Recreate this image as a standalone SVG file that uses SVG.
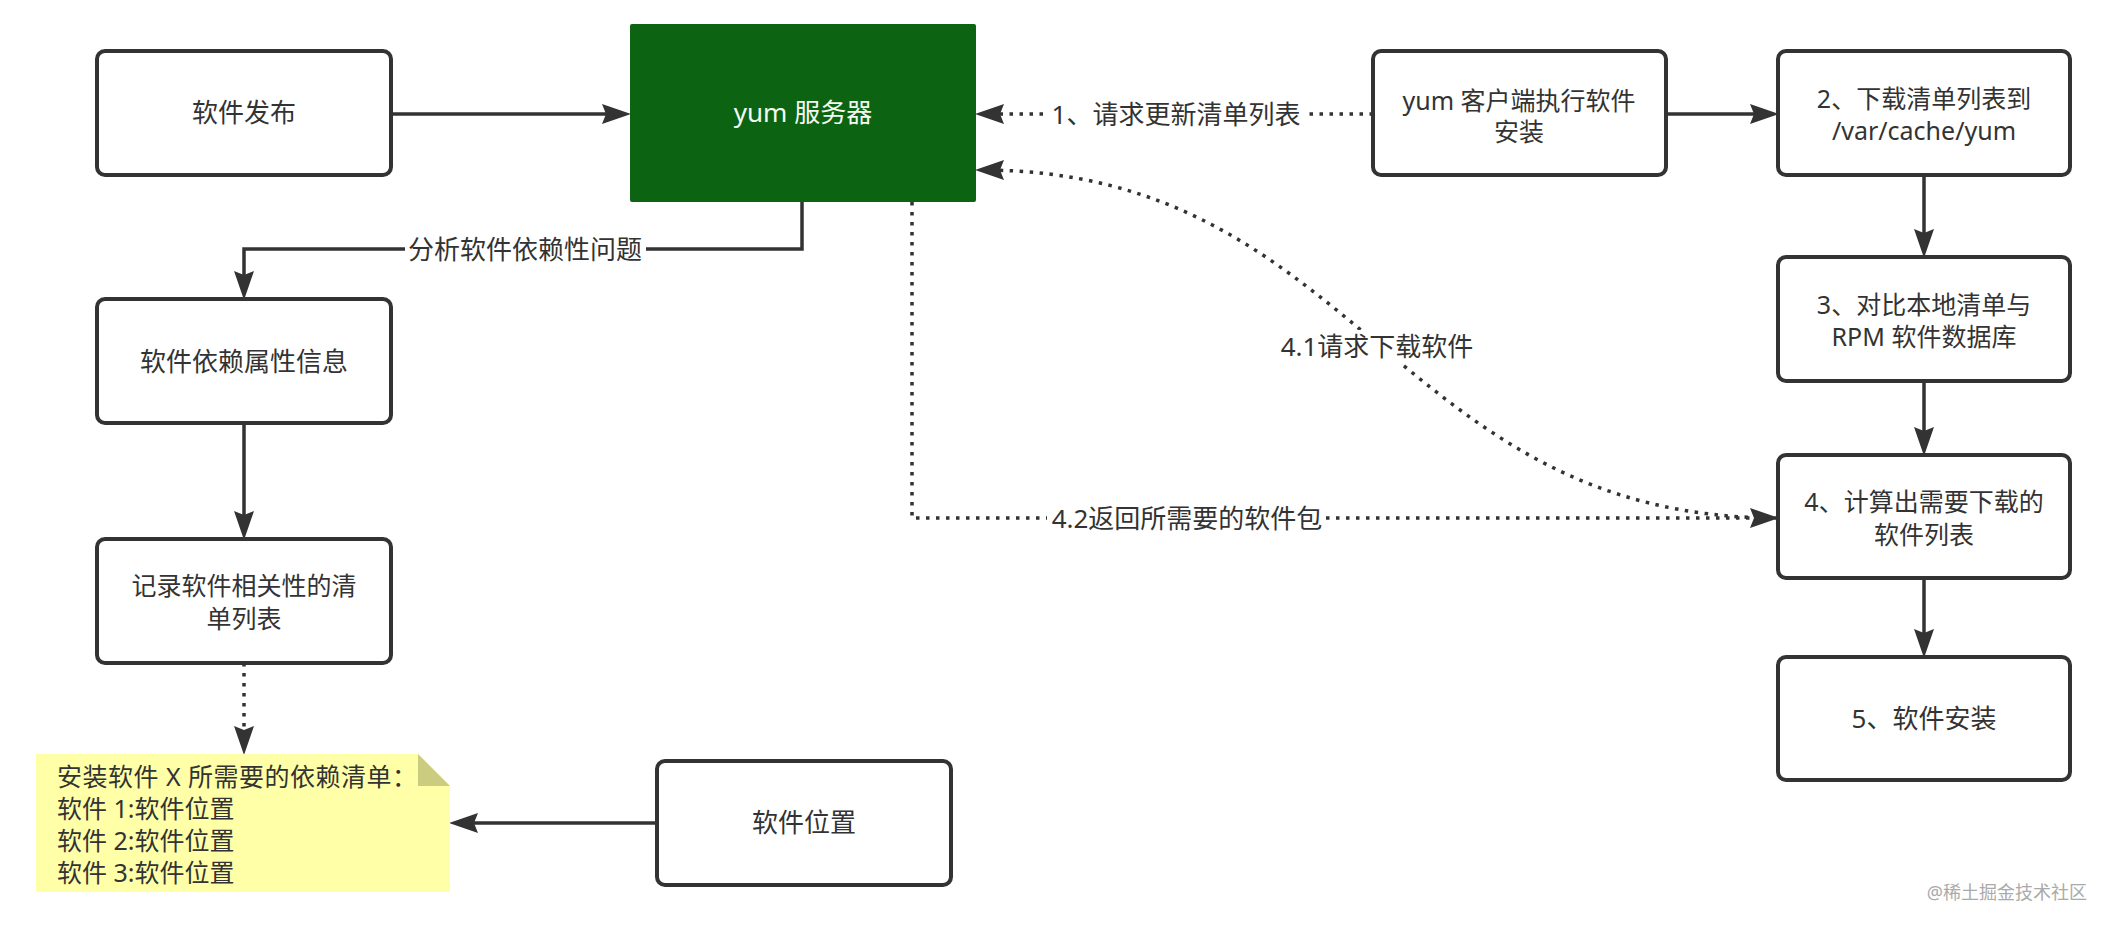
<svg xmlns="http://www.w3.org/2000/svg" width="2112" height="928" viewBox="0 0 2112 928">
<style>
.box{fill:#ffffff;stroke:#333333;stroke-width:4}
.t{font-family:"Noto Sans","Noto Sans CJK SC",sans-serif;font-size:26px;fill:#333333;text-anchor:middle}
.t2{font-family:"Noto Sans","Noto Sans CJK SC",sans-serif;font-size:25px;fill:#333333;text-anchor:middle}
.tl{font-family:"Noto Sans","Noto Sans CJK SC",sans-serif;font-size:25px;fill:#333333}
.ln{fill:none;stroke:#333333;stroke-width:3.5}
.dt{fill:none;stroke:#333333;stroke-width:3.5;stroke-dasharray:3.5 6.5}
.bg{fill:#ffffff}
</style>
<defs>
<marker id="ah" markerUnits="userSpaceOnUse" markerWidth="30" markerHeight="22" refX="23" refY="11" orient="auto">
<path d="M0,1 L29,11 L0,21 L4,11 Z" fill="#333333"/>
</marker>
</defs>
<rect width="2112" height="928" fill="#ffffff"/>

<g id="connectors">
<path class="ln" d="M391,114 L625,114" marker-end="url(#ah)"/>
<path class="dt" d="M1373,114 L981,114" marker-end="url(#ah)"/>
<path class="ln" d="M1666,114 L1773,114" marker-end="url(#ah)"/>
<path class="ln" d="M1924,175 L1924,252" marker-end="url(#ah)"/>
<path class="ln" d="M1924,381 L1924,450" marker-end="url(#ah)"/>
<path class="ln" d="M1924,578 L1924,652" marker-end="url(#ah)"/>
<path class="ln" d="M802,202 L802,249 L244,249 L244,294" marker-end="url(#ah)"/>
<path class="ln" d="M244,423 L244,534" marker-end="url(#ah)"/>
<path class="dt" d="M244,663 L244,749" marker-end="url(#ah)"/>
<path class="ln" d="M657,823 L455,823" marker-end="url(#ah)"/>
<path class="dt" d="M912,202 L912,518 L1773,518" marker-end="url(#ah)"/>
<path class="dt" d="M1778,518 C1395,518 1359,170 981,170" marker-end="url(#ah)"/>
<rect class="bg" x="1046" y="98" width="260" height="34"/>
<text class="t" x="1176" y="124">1、请求更新清单列表</text>
<rect class="bg" x="405" y="233" width="241" height="34"/>
<text class="t" x="525" y="259">分析软件依赖性问题</text>
<rect class="bg" x="1047" y="502" width="279" height="34"/>
<text class="t" x="1187" y="528">4.2返回所需要的软件包</text>
<rect class="bg" x="1277" y="330" width="200" height="34"/>
<text class="t" x="1377" y="356">4.1请求下载软件</text>
</g>

<g id="node-publish">
<rect class="box" x="97" y="51" width="294" height="124" rx="8"/>
<text class="t" x="244" y="122">软件发布</text>
</g>
<g id="node-server">
<rect x="630" y="24" width="346" height="178" rx="2" fill="#0c6412"/>
<text class="t" x="803" y="122" style="fill:#f2faf2">yum 服务器</text>
</g>
<g id="node-client">
<rect class="box" x="1373" y="51" width="293" height="124" rx="8"/>
<text class="t2" x="1519" y="110">yum 客户端执行软件</text>
<text class="t2" x="1519" y="141">安装</text>
</g>
<g id="node-step2">
<rect class="box" x="1778" y="51" width="292" height="124" rx="8"/>
<text class="t2" x="1924" y="108">2、下载清单列表到</text>
<text class="t2" x="1924" y="140">/var/cache/yum</text>
</g>
<g id="node-step3">
<rect class="box" x="1778" y="257" width="292" height="124" rx="8"/>
<text class="t2" x="1924" y="314">3、对比本地清单与</text>
<text class="t2" x="1924" y="346">RPM 软件数据库</text>
</g>
<g id="node-step4">
<rect class="box" x="1778" y="455" width="292" height="123" rx="8"/>
<text class="t2" x="1924" y="511">4、计算出需要下载的</text>
<text class="t2" x="1924" y="544">软件列表</text>
</g>
<g id="node-step5">
<rect class="box" x="1778" y="657" width="292" height="123" rx="8"/>
<text class="t" x="1924" y="728">5、软件安装</text>
</g>
<g id="node-deps">
<rect class="box" x="97" y="299" width="294" height="124" rx="8"/>
<text class="t" x="244" y="371">软件依赖属性信息</text>
</g>
<g id="node-record">
<rect class="box" x="97" y="539" width="294" height="124" rx="8"/>
<text class="t2" x="244" y="595">记录软件相关性的清</text>
<text class="t2" x="244" y="628">单列表</text>
</g>
<g id="node-note">
<path d="M36,754 L418,754 L450,786 L450,892 L36,892 Z" fill="#ffffa8"/>
<path d="M418,754 L450,786 L418,786 Z" fill="#cccc80"/>
<text class="tl" x="57" y="786" textLength="360" lengthAdjust="spacing">安装软件 X 所需要的依赖清单：</text>
<text class="tl" x="57" y="818">软件 1:软件位置</text>
<text class="tl" x="57" y="850">软件 2:软件位置</text>
<text class="tl" x="57" y="882">软件 3:软件位置</text>
</g>
<g id="node-location">
<rect class="box" x="657" y="761" width="294" height="124" rx="8"/>
<text class="t" x="804" y="832">软件位置</text>
</g>
<text x="2087" y="899" style="font-family:'Noto Sans','Noto Sans CJK SC',sans-serif;font-size:18px;fill:#aaaaaa;text-anchor:end">@稀土掘金技术社区</text>
</svg>
